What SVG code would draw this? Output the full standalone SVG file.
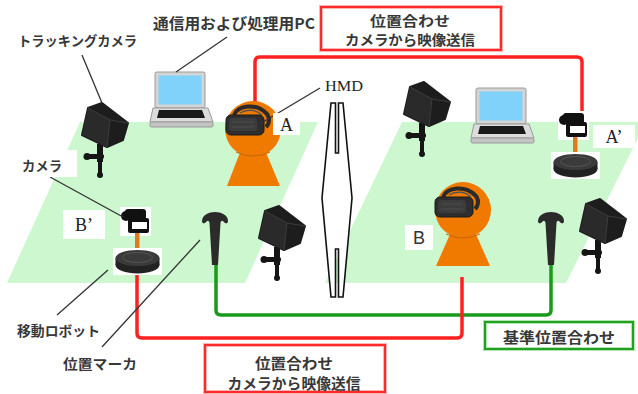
<svg xmlns="http://www.w3.org/2000/svg" xmlns:xlink="http://www.w3.org/1999/xlink" width="638" height="394" viewBox="0 0 638 394">
  <style>
    .floor { fill: #cdf7cf; }
    .jp { font-family: "Noto Sans CJK JP", "Noto Sans", sans-serif; font-weight: bold; fill: #383838; dominant-baseline: central; }
    .serif { font-family: "Liberation Serif", serif; fill: #222; dominant-baseline: central; }
    .lead { stroke: #333; stroke-width: 1.3; fill: none; }
    .red { stroke: #ff2020; stroke-width: 3.5; fill: none; }
    .green { stroke: #1a9a1a; stroke-width: 3.5; fill: none; }
    .tag { fill: #fff; }
    .orange { fill: #f07a00; }
  </style>
  <defs>
    <!-- tracking camera: tilted cube on a clamp mount -->
    <g id="trackcam">
      <rect x="17" y="44" width="6" height="18" fill="#151515"/>
      <rect x="6" y="54" width="18" height="5" rx="2" fill="#151515"/>
      <circle cx="7" cy="56.5" r="3.5" fill="#151515"/>
      <rect x="18" y="60" width="4" height="15" fill="#151515"/>
      <circle cx="20" cy="75" r="3" fill="#151515"/>
      <polygon points="8,8 22,3 48,23 43,40 27,47 2,35" fill="#1d1d1d" stroke="#1d1d1d" stroke-width="2" stroke-linejoin="round"/>
      <polygon points="8,8 30,20 27,47 2,35" fill="#2a2a2a"/>
      <polyline points="8,8 30,20 48,23" fill="none" stroke="#3c3c3c" stroke-width="1"/>
      <line x1="30" y1="20" x2="27" y2="47" stroke="#3c3c3c" stroke-width="1"/>
    </g>
    <!-- laptop PC -->
    <g id="laptop">
      <rect x="5" y="0" width="50" height="36" rx="2" fill="#d4d4d4" stroke="#9a9a9a" stroke-width="1"/>
      <rect x="8.5" y="3.5" width="43" height="29" fill="#80d2fa"/>
      <polygon points="3,36 58,36 63,50 0,50" fill="#dcdcdc" stroke="#9a9a9a" stroke-width="1"/>
      <polygon points="9,38 52,38 55,46 7,46" fill="#1a1a1a"/>
      <rect x="0" y="50" width="63" height="5" rx="1.5" fill="#c4c4c4" stroke="#9a9a9a" stroke-width="1"/>
    </g>
    <!-- position marker (tracker) -->
    <path id="marker" d="M-13,9 C-13,3 -6,0 0,0 C6,0 13,3 13,9 C13,12 10,12 8.5,9.5 C7,8 6,8.5 5.5,11 L3,53 L-3,53 L-5.5,11 C-6,8.5 -7,8 -8.5,9.5 C-10,12 -13,12 -13,9 Z" fill="#2b2b2b"/>
    <!-- mobile robot carrying a video camera -->
    <g id="botcam">
      <rect x="120" y="207" width="31" height="29" fill="#fff"/>
      <rect x="135" y="233" width="4.5" height="18" fill="#e07a20"/>
      <rect x="113" y="248" width="49" height="27" fill="#fff"/>
      <ellipse cx="137.5" cy="265" rx="22" ry="8.5" fill="#222"/>
      <rect x="115.5" y="258" width="44" height="7" fill="#222"/>
      <ellipse cx="137.5" cy="258" rx="22" ry="8" fill="#3a3a3a"/>
      <ellipse cx="137.5" cy="257.5" rx="15" ry="5" fill="none" stroke="#555" stroke-width="1"/>
      <rect x="125" y="209" width="21" height="11" rx="3" fill="#111"/>
      <circle cx="126" cy="216" r="5" fill="#111"/>
      <rect x="128" y="218" width="21" height="15" rx="2" fill="#111"/>
      <rect x="132" y="222" width="15" height="7" fill="#fff"/>
    </g>
    <!-- head-mounted display -->
    <g id="hmd">
      <path d="M8,8 C12,-2 30,-4 40,6 C44,10 44,16 40,20" fill="none" stroke="#2a2a2a" stroke-width="4"/>
      <path d="M14,6 C20,2 30,2 36,8" fill="none" stroke="#555" stroke-width="1.5"/>
      <rect x="0" y="8" width="38" height="20" rx="5" fill="#2e2e2e" stroke="#1a1a1a" stroke-width="1"/>
      <rect x="3" y="11" width="28" height="13" rx="3" fill="#3c3c3c"/>
      <line x1="6" y1="15" x2="28" y2="15" stroke="#4c4c4c" stroke-width="1"/>
      <line x1="6" y1="20" x2="28" y2="20" stroke="#4c4c4c" stroke-width="1"/>
    </g>
  </defs>

  <!-- floors -->
  <g id="floor-left"><polygon class="floor" points="80,122 318,122 245,283 7,283"/></g>
  <g id="floor-right"><polygon class="floor" points="402,122 646,122 566,283 325,283"/></g>

  <!-- connectors -->
  <g id="connectors">
    <path class="red" d="M255,112 V62 Q255,57 260,57 H577 Q582,57 582,62 V112"/>
    <path class="green" d="M216,262 V310 Q216,315 221,315 H546 Q551,315 551,310 V262"/>
    <path class="red" d="M137,275 V333 Q137,338 142,338 H457 Q462,338 462,333 V277"/>
  </g>

  <!-- room separator -->
  <g id="separator">
    <path d="M331,103 L322,198 L331,297 L335.5,297 L335.5,249 L338.5,249 L338.5,297 L343,297 L352,198 L343,103 L338.5,103 L338.5,153 L335.5,153 L335.5,103 Z" fill="#fff" stroke="#111" stroke-width="1.6" stroke-linejoin="miter"/>
  </g>

  <!-- left room -->
  <g id="trackcam-left-top"><use xlink:href="#trackcam" transform="translate(80,100)"/></g>
  <g id="pc-left"><use xlink:href="#laptop" transform="translate(150,72)"/></g>
  <g id="robot-a">
    <polygon class="orange" points="241,150 265,150 280,186 227,186"/>
    <circle class="orange" cx="253" cy="129" r="28"/>
    <path d="M236,152 Q253,160 270,152" fill="none" stroke="#c86400" stroke-width="1"/>
    <use xlink:href="#hmd" transform="translate(226,107)"/>
  </g>
  <g id="botcam-b"><use xlink:href="#botcam"/></g>
  <g id="marker-left"><use xlink:href="#marker" transform="translate(215,212)"/></g>
  <g id="trackcam-left-bottom"><use xlink:href="#trackcam" transform="translate(257,203)"/></g>

  <!-- right room -->
  <g id="trackcam-right-top"><use xlink:href="#trackcam" transform="translate(402,79)"/></g>
  <g id="pc-right"><use xlink:href="#laptop" transform="translate(471,88)"/></g>
  <g id="botcam-a"><use xlink:href="#botcam" transform="translate(438,-96)"/></g>
  <g id="robot-b">
    <polygon class="orange" points="451,232 475,232 490,266 436,266"/>
    <circle class="orange" cx="463" cy="210" r="28"/>
    <path d="M446,234 Q463,242 480,234" fill="none" stroke="#c86400" stroke-width="1"/>
    <use xlink:href="#hmd" transform="translate(435,189)"/>
  </g>
  <g id="marker-right"><use xlink:href="#marker" transform="translate(551,212)"/></g>
  <g id="trackcam-right-bottom"><use xlink:href="#trackcam" transform="translate(578,196)"/></g>

  <!-- leader lines -->
  <g id="leaders">
    <line class="lead" x1="82" y1="55" x2="102" y2="103"/>
    <line class="lead" x1="227" y1="37" x2="176" y2="72"/>
    <line class="lead" x1="320" y1="88" x2="258" y2="125"/>
    <line class="lead" x1="50" y1="177" x2="123" y2="217"/>
    <line class="lead" x1="57" y1="315" x2="108" y2="270"/>
    <line class="lead" x1="102" y1="347" x2="200" y2="240"/>
  </g>

  <!-- point labels -->
  <g id="label-a"><rect class="tag" x="273" y="113" width="27" height="22"/><text class="serif" x="286.5" y="124.5" font-size="18" text-anchor="middle">A</text></g>
  <g id="label-a2"><rect class="tag" x="593" y="125" width="42" height="23"/><text class="serif" x="614" y="137" font-size="18" text-anchor="middle">A’</text></g>
  <g id="label-b2"><rect class="tag" x="63" y="210" width="42" height="29"/><text class="serif" x="84" y="225" font-size="18" text-anchor="middle">B’</text></g>
  <g id="label-b"><rect class="tag" x="405" y="225" width="28" height="25"/><text x="419" y="238" font-size="18" text-anchor="middle" style="font-family:'Liberation Sans',sans-serif;fill:#333;dominant-baseline:central">B</text></g>

  <!-- captions -->
  <g id="caption-pc"><text class="jp" x="153" y="22" font-size="15" textLength="162" lengthAdjust="spacingAndGlyphs">通信用および処理用PC</text></g>
  <g id="caption-tracking"><text class="jp" x="18" y="40" font-size="13.5" textLength="119" lengthAdjust="spacingAndGlyphs">トラッキングカメラ</text></g>
  <g id="caption-camera"><rect class="tag" x="14" y="150" width="63" height="27"/><text class="jp" x="22" y="165" font-size="13.5" textLength="40" lengthAdjust="spacingAndGlyphs">カメラ</text></g>
  <g id="caption-hmd"><text class="serif" x="325" y="86" font-size="14" textLength="38" lengthAdjust="spacingAndGlyphs">HMD</text></g>
  <g id="caption-robot"><text class="jp" x="17" y="330" font-size="13.5" textLength="83" lengthAdjust="spacingAndGlyphs">移動ロボット</text></g>
  <g id="caption-marker"><text class="jp" x="63" y="363" font-size="13.5" textLength="74" lengthAdjust="spacingAndGlyphs">位置マーカ</text></g>

  <!-- callout boxes -->
  <g id="box-top">
    <rect x="321" y="7" width="180" height="43" fill="#fff" stroke="#ffb4b4" stroke-width="4"/>
    <rect x="321" y="7" width="180" height="43" fill="none" stroke="#ff2a2a" stroke-width="2"/>
    <text class="jp" x="410" y="19.5" font-size="14" text-anchor="middle" textLength="80" lengthAdjust="spacingAndGlyphs">位置合わせ</text>
    <text class="jp" x="410" y="39" font-size="14" text-anchor="middle" textLength="130" lengthAdjust="spacingAndGlyphs">カメラから映像送信</text>
  </g>
  <g id="box-bottom">
    <rect x="205" y="345" width="180" height="47" fill="#fff" stroke="#ffb4b4" stroke-width="4"/>
    <rect x="205" y="345" width="180" height="47" fill="none" stroke="#ff2a2a" stroke-width="2"/>
    <text class="jp" x="294" y="362" font-size="14.5" text-anchor="middle" textLength="78" lengthAdjust="spacingAndGlyphs">位置合わせ</text>
    <text class="jp" x="294" y="382" font-size="14.5" text-anchor="middle" textLength="133" lengthAdjust="spacingAndGlyphs">カメラから映像送信</text>
  </g>
  <g id="box-green">
    <rect x="485" y="322" width="148" height="27" fill="#fff" stroke="#b4e4b4" stroke-width="4"/>
    <rect x="485" y="322" width="148" height="27" fill="none" stroke="#22a022" stroke-width="2"/>
    <text class="jp" x="559" y="336" font-size="15" text-anchor="middle" textLength="112" lengthAdjust="spacingAndGlyphs">基準位置合わせ</text>
  </g>
</svg>
